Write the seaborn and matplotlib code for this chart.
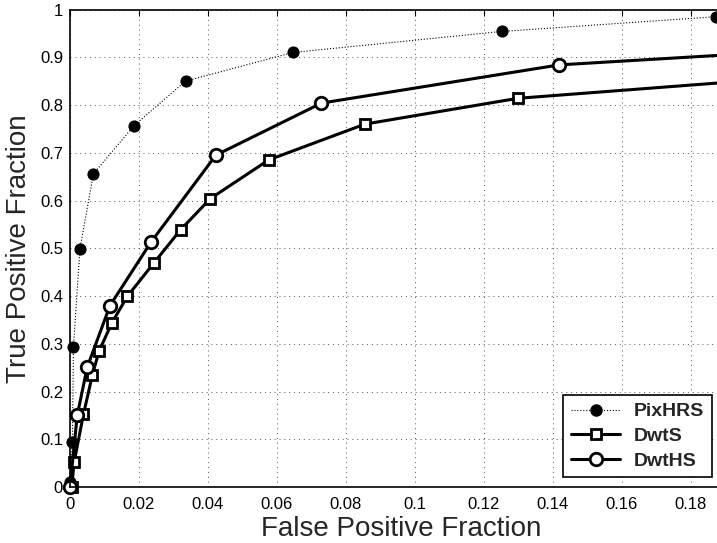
import numpy as np
import pandas as pd
import seaborn as sns
import matplotlib
matplotlib.use("Agg")
import matplotlib.pyplot as plt
from matplotlib.lines import Line2D

# ROC points
pix_fpf = [0.0, 0.0, 0.0007, 0.001, 0.0029, 0.0068, 0.0186, 0.0335, 0.0646, 0.1251, 0.1874]
pix_tpf = [0.0, 0.022, 0.094, 0.293, 0.499, 0.656, 0.757, 0.850, 0.910, 0.954, 0.985]

dwts_fpf = [0.0005, 0.0012, 0.0039, 0.0065, 0.0084, 0.0121, 0.0166, 0.0244, 0.0321, 0.0407, 0.0576, 0.0855, 0.1298, 0.26]
dwts_tpf = [0.0, 0.052, 0.152, 0.235, 0.284, 0.343, 0.399, 0.470, 0.539, 0.604, 0.685, 0.760, 0.814, 0.886]

dwths_fpf = [0.0, 0.0021, 0.0050, 0.0116, 0.0235, 0.0423, 0.0729, 0.1418, 0.26]
dwths_tpf = [0.0, 0.150, 0.251, 0.380, 0.513, 0.695, 0.804, 0.884, 0.935]

xticks = np.arange(0, 0.19, 0.02)
xtick_labels = ["0", "0.02", "0.04", "0.06", "0.08", "0.1", "0.12", "0.14", "0.16", "0.18"]
yticks = np.arange(0, 1.01, 0.1)
ytick_labels = ["0", "0.1", "0.2", "0.3", "0.4", "0.5", "0.6", "0.7", "0.8", "0.9", "1"]

sns.set_theme(style="white")
plt.rcParams['font.family'] = ['Liberation Sans', 'DejaVu Sans']

fig = plt.figure(figsize=(7.17, 5.43), dpi=100)
# axes run a little past the right edge of the picture, as in the reference
ax = fig.add_axes([0.0976, 0.1031, 0.9247, 0.8794])

pix = pd.DataFrame({'fpf': pix_fpf, 'tpf': pix_tpf})
dwts = pd.DataFrame({'fpf': dwts_fpf, 'tpf': dwts_tpf})
dwths = pd.DataFrame({'fpf': dwths_fpf, 'tpf': dwths_tpf})

sns.lineplot(data=pix, x='fpf', y='tpf', sort=False, ax=ax, color='black',
             linestyle=':', linewidth=0.8, marker='o', markersize=8,
             markerfacecolor='black', markeredgecolor='black', clip_on=False)
sns.lineplot(data=dwts, x='fpf', y='tpf', sort=False, ax=ax, color='black',
             linewidth=2.2, marker='s', markersize=7, markerfacecolor='white',
             markeredgecolor='black', markeredgewidth=2, clip_on=False)
sns.lineplot(data=dwths, x='fpf', y='tpf', sort=False, ax=ax, color='black',
             linewidth=2.2, marker='o', markersize=9, markerfacecolor='white',
             markeredgecolor='black', markeredgewidth=2, clip_on=False)

ax.set_xlim(0, 0.1922)
ax.set_ylim(0, 1)
ax.set_xticks(xticks)
ax.set_xticklabels(xtick_labels)
ax.set_yticks(yticks)
ax.set_yticklabels(ytick_labels)
ax.tick_params(direction='in', length=4, width=0.8, labelsize=12, colors='black',
               top=True, right=True, pad=5)
ax.tick_params(axis='x', pad=7)
ax.grid(True, linestyle=(0, (1, 4)), color='#555555', linewidth=0.7)
for s in ax.spines.values():
    s.set_color('black')
    s.set_linewidth(1.2)

ax.set_xlabel('False Positive Fraction', fontsize=20, labelpad=3)
ax.set_ylabel('True Positive Fraction', fontsize=20, labelpad=6)

handles = [
    Line2D([], [], color='black', linestyle=':', linewidth=0.8, marker='o',
           markersize=8, markerfacecolor='black'),
    Line2D([], [], color='black', linewidth=2.2, marker='s', markersize=7,
           markerfacecolor='white', markeredgewidth=2),
    Line2D([], [], color='black', linewidth=2.2, marker='o', markersize=9,
           markerfacecolor='white', markeredgewidth=2),
]
leg = ax.legend(handles, ['PixHRS', 'DwtS', 'DwtHS'], loc='lower left',
                bbox_to_anchor=(0.7436, 0.02), borderaxespad=0, fancybox=False,
                framealpha=1, edgecolor='black',
                prop={'weight': 'bold', 'size': 14},
                handlelength=2.55, handletextpad=0.7, borderpad=0.4,
                labelspacing=0.36)
leg.get_frame().set_linewidth(1.2)

fig.savefig('out.png', dpi=100)
